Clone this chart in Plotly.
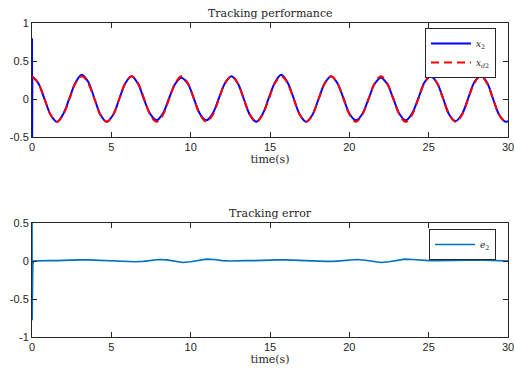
import plotly.graph_objects as go

# ---------------- data ----------------
t_main = [0, 0.39, 0.79, 1.18, 1.57, 1.96, 2.36, 2.75, 3.14, 3.53, 3.93, 4.32, 4.71, 5.11, 5.50, 5.89,
          6.28, 6.68, 7.07, 7.46, 7.85, 8.25, 8.64, 9.03, 9.42, 9.82, 10.21, 10.60, 11.00, 11.39, 11.78, 12.17,
          12.57, 12.96, 13.35, 13.74, 14.14, 14.53, 14.92, 15.32, 15.71, 16.10, 16.49, 16.89, 17.28, 17.67, 18.06, 18.46,
          18.85, 19.24, 19.63, 20.03, 20.42, 20.81, 21.21, 21.60, 21.99, 22.38, 22.78, 23.17, 23.56, 23.95, 24.35, 24.74,
          25.13, 25.53, 25.92, 26.31, 26.70, 27.10, 27.49, 27.88, 28.27, 28.67, 29.06, 29.45, 29.85, 30.00]

xd2 = [0.30, 0.21, 0.00, -0.21, -0.30, -0.21, 0.00, 0.21, 0.30, 0.21, 0.00, -0.21, -0.30, -0.21, 0.00, 0.21,
       0.30, 0.21, 0.00, -0.21, -0.30, -0.21, 0.00, 0.21, 0.30, 0.21, 0.00, -0.21, -0.30, -0.21, 0.00, 0.21,
       0.30, 0.21, 0.00, -0.21, -0.30, -0.21, 0.00, 0.21, 0.30, 0.21, 0.00, -0.21, -0.30, -0.21, 0.00, 0.21,
       0.30, 0.21, 0.00, -0.21, -0.30, -0.21, 0.00, 0.21, 0.30, 0.21, 0.00, -0.21, -0.30, -0.21, 0.00, 0.21,
       0.30, 0.21, 0.00, -0.21, -0.30, -0.21, 0.00, 0.21, 0.30, 0.21, 0.00, -0.21, -0.30, -0.29]

x2 = [0.30, 0.21, 0.00, -0.21, -0.30, -0.20, 0.01, 0.22, 0.32, 0.23, 0.01, -0.21, -0.30, -0.21, 0.00, 0.21,
      0.30, 0.20, -0.01, -0.20, -0.28, -0.19, 0.01, 0.20, 0.28, 0.20, 0.00, -0.20, -0.28, -0.19, 0.01, 0.21,
      0.30, 0.21, 0.00, -0.21, -0.30, -0.20, 0.01, 0.22, 0.32, 0.22, 0.01, -0.21, -0.30, -0.21, 0.00, 0.21,
      0.30, 0.21, 0.01, -0.20, -0.28, -0.20, 0.00, 0.20, 0.28, 0.20, 0.00, -0.20, -0.28, -0.19, 0.01, 0.22,
      0.30, 0.21, 0.00, -0.21, -0.29, -0.20, 0.01, 0.22, 0.31, 0.22, 0.00, -0.21, -0.30, -0.29]

# initial transient of x2
t_x2_start = [0.0, 0.005, 0.02]
x2_start = [0.80, -0.90, 0.30]

t_err = [0.0, 0.01, 0.05, 0.1, 0.5, 1.0, 1.5, 2.0, 2.5, 3.0, 3.5, 4.0, 4.5, 5.0, 5.5, 6.0, 6.5, 7.0, 7.5, 8.0,
         8.5, 9.0, 9.5, 10.0, 10.5, 11.0, 11.5, 12.0, 12.5, 13.0, 13.5, 14.0, 14.5, 15.0, 15.5, 16.0, 16.5, 17.0,
         17.5, 18.0, 18.5, 19.0, 19.5, 20.0, 20.5, 21.0, 21.5, 22.0, 22.5, 23.0, 23.5, 24.0, 24.5, 25.0, 25.5,
         26.0, 26.5, 27.0, 27.5, 28.0, 28.5, 29.0, 29.5, 30.0]
e2 = [0.90, -0.78, -0.05, 0.0, 0.005, 0.005, 0.005, 0.01, 0.01, 0.015, 0.015, 0.01, 0.005, 0.005, 0.0, -0.005,
      -0.01, -0.005, 0.01, 0.02, 0.015, -0.005, -0.02, -0.01, 0.01, 0.025, 0.02, 0.005, 0.0, 0.005, 0.005, 0.005,
      0.01, 0.01, 0.015, 0.015, 0.01, 0.005, 0.0, 0.0, -0.005, -0.005, 0.005, 0.015, 0.02, 0.01, -0.01, -0.02,
      -0.01, 0.01, 0.025, 0.02, 0.01, 0.005, 0.005, 0.005, 0.005, 0.01, 0.01, 0.015, 0.01, 0.005, 0.0, 0.0]

x_ticks = [0, 5, 10, 15, 20, 25, 30]
y1_ticks = [-0.5, 0, 0.5, 1]
y1_labels = ["-0.5", "0", "0.5", "1"]
y2_ticks = [-1, -0.5, 0, 0.5]
y2_labels = ["-1", "-0.5", "0", "0.5"]

# ---------------- figure ----------------
W, H = 515, 370
BLUE = "#0000ff"
RED = "#ff0000"
EBLUE = "#0072bd"
AX = "#262626"
SERIF = "DejaVu Serif"
SANS = "Liberation Sans"

# plot area in window pixels
L, R, T, B = 32, 508, 23, 337
PH = B - T

fig = go.Figure()

fig.add_trace(go.Scatter(x=t_x2_start, y=x2_start, mode="lines",
                         line=dict(color=BLUE, width=2), showlegend=False,
                         xaxis="x", yaxis="y", hoverinfo="skip"))
fig.add_trace(go.Scatter(x=t_main, y=x2, mode="lines", name="<i>x</i><sub>2</sub>",
                         line=dict(color=BLUE, width=2, shape="spline"),
                         xaxis="x", yaxis="y", legend="legend"))
fig.add_trace(go.Scatter(x=t_main, y=xd2, mode="lines", name="<i>x</i><sub><i>d</i>2</sub>",
                         line=dict(color=RED, width=2, dash="8px,5px", shape="spline"),
                         xaxis="x", yaxis="y", legend="legend"))
fig.add_trace(go.Scatter(x=t_err, y=e2, mode="lines", name="<i>e</i><sub>2</sub>",
                         line=dict(color=EBLUE, width=1.6),
                         xaxis="x2", yaxis="y2", legend="legend2"))

def py_dom(top_px, bot_px):
    return [(B - bot_px) / PH, (B - top_px) / PH]

dom_y1 = py_dom(23, 137)
dom_y2 = py_dom(223, 337)

def paper_y(py):
    return (B - py) / PH

def paper_x(px):
    return (px - L) / (R - L)

common_axis = dict(showline=True, linecolor=AX, linewidth=1, mirror="ticks",
                   ticks="inside", ticklen=5, tickcolor=AX, tickwidth=1,
                   showgrid=False, zeroline=False, automargin=False,
                   tickfont=dict(family=SANS, size=11, color=AX))

fig.update_layout(
    width=W, height=H,
    margin=dict(l=L, r=W - R, t=T, b=H - B, autoexpand=False),
    paper_bgcolor="white", plot_bgcolor="white",
    xaxis=dict(domain=[0, 1], range=[0, 30], tickvals=x_ticks, anchor="y",
               title=dict(text="time(s)", font=dict(family=SERIF, size=11, color=AX), standoff=0),
               **common_axis),
    yaxis=dict(domain=dom_y1, range=[-0.5, 1], tickvals=y1_ticks, ticktext=y1_labels, anchor="x",
               **common_axis),
    xaxis2=dict(domain=[0, 1], range=[0, 30], tickvals=x_ticks, anchor="y2",
                title=dict(text="time(s)", font=dict(family=SERIF, size=11, color=AX), standoff=0),
                **common_axis),
    yaxis2=dict(domain=dom_y2, range=[-1, 0.5], tickvals=y2_ticks, ticktext=y2_labels, anchor="x2",
                **common_axis),
    legend=dict(x=paper_x(496), y=paper_y(28), xanchor="right", yanchor="top",
                bgcolor="white", bordercolor=AX, borderwidth=1,
                font=dict(family=SERIF, size=9, color=AX),
                tracegroupgap=0, itemwidth=40),
    legend2=dict(x=paper_x(496), y=paper_y(229), xanchor="right", yanchor="top",
                 bgcolor="white", bordercolor=AX, borderwidth=1,
                 font=dict(family=SERIF, size=9, color=AX), itemwidth=40),
    annotations=[
        dict(text="Tracking performance", x=0.5, y=dom_y1[1],
             xref="paper", yref="paper", xanchor="center", yanchor="bottom", yshift=1,
             showarrow=False, font=dict(family=SERIF, size=11, color=AX)),
        dict(text="Tracking error", x=0.5, y=dom_y2[1],
             xref="paper", yref="paper", xanchor="center", yanchor="bottom", yshift=1,
             showarrow=False, font=dict(family=SERIF, size=11, color=AX)),
    ],
)

# remove the default page margin so the figure fills the 515x370 window exactly
fig.write_html("out.html",
               config={"displayModeBar": False},
               post_script="document.body.style.margin='0';document.body.style.overflow='hidden';")
